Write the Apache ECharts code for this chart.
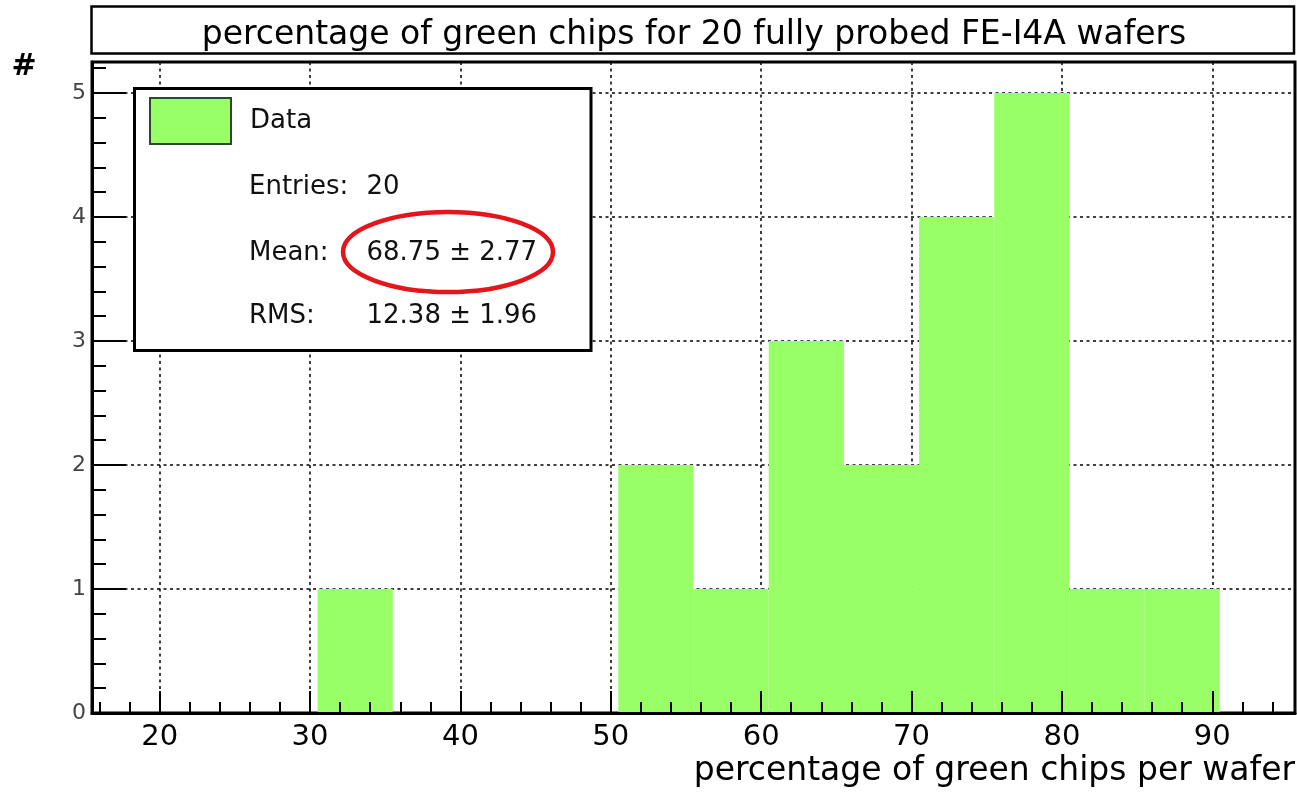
<!DOCTYPE html>
<html>
<head>
<meta charset="utf-8">
<title>percentage of green chips for 20 fully probed FE-I4A wafers</title>
<script src="https://cdn.jsdelivr.net/npm/echarts@6/dist/echarts.min.js"></script>
<style>
  html, body { margin: 0; padding: 0; background: #fff; }
  #chart { width: 1297px; height: 792px; }
</style>
</head>
<body>
<div id="chart"></div>
<script>
// Histogram bins (low edge, width 5) and entries per bin
const binLow = [30.5, 50.5, 55.5, 60.5, 65.5, 70.5, 75.5, 80.5, 85.5];
const binWidth = 5;
const counts = [1, 2, 1, 3, 2, 4, 5, 1, 1];

// Axis ranges and tick positions
const xRange = [15.5, 95.5];
const yRange = [0, 5.25];
const xMajorTicks = [20, 30, 40, 50, 60, 70, 80, 90];
const xMinorTicks = [16, 18, 22, 24, 26, 28, 32, 34, 36, 38, 42, 44, 46, 48, 52, 54, 56, 58,
                     62, 64, 66, 68, 72, 74, 76, 78, 82, 84, 86, 88, 92, 94];
const yMajorTicks = [0, 1, 2, 3, 4, 5];
const yMinorTicks = [0.2, 0.4, 0.6, 0.8, 1.2, 1.4, 1.6, 1.8, 2.2, 2.4, 2.6, 2.8,
                     3.2, 3.4, 3.6, 3.8, 4.2, 4.4, 4.6, 4.8, 5.2];

// Statistics box
const statLabels = ['Entries:', 'Mean:', 'RMS:'];
const statValues = ['20', '68.75 \u00b1 2.77', '12.38 \u00b1 1.96'];

const titleText = 'percentage of green chips for 20 fully probed FE-I4A wafers';
const xTitle = 'percentage of green chips per wafer';
const yTitle = '#';

const FONT = "'DejaVu Sans', sans-serif";
const FILL = '#99ff66';
const gridDots = { color: '#000', width: 1.5, type: [3, 3.5] };

const chart = echarts.init(document.getElementById('chart'), null, { renderer: 'canvas' });

const histData = binLow.map((lo, i) => [lo, lo + binWidth, counts[i]]);

function hidden() {
  return { axisLine: { show: false }, axisTick: { show: false }, axisLabel: { show: false }, splitLine: { show: false } };
}

const option = {
  animation: false,
  backgroundColor: '#fff',
  grid: {
    left: 92, top: 62, width: 1203, height: 651,
    show: true, borderColor: '#000', borderWidth: 3, backgroundColor: '#fff',
    containLabel: false, outerBoundsMode: 'none'
  },
  legend: {
    show: true, selectedMode: false, z: 20, padding: 0,
    left: 149, top: 97, orient: 'vertical',
    itemWidth: 81, itemHeight: 46,
    data: [{ name: 'Data', icon: 'rect' }],
    itemStyle: { color: FILL, borderColor: '#2b4a2b', borderWidth: 2 },
    textStyle: { fontFamily: FONT, fontSize: 26, color: '#111', padding: [0, 0, 0, 14] }
  },
  xAxis: [
    // gridlines (beneath the bars)
    Object.assign(hidden(), {
      type: 'value', min: xRange[0], max: xRange[1], splitNumber: 8, position: 'bottom',
      splitLine: { show: true, lineStyle: gridDots }
    }),
    // axis line, major ticks and labels
    Object.assign(hidden(), {
      type: 'value', min: xRange[0], max: xRange[1], position: 'bottom', z: 5,
      axisLine: { show: true, onZero: false, lineStyle: { color: '#000', width: 3 } },
      axisTick: { show: true, inside: true, length: 22, customValues: xMajorTicks, lineStyle: { color: '#000', width: 2 } },
      axisLabel: { show: true, customValues: xMajorTicks, fontFamily: FONT, fontSize: 29, color: '#000', margin: 10 }
    }),
    // minor ticks
    Object.assign(hidden(), {
      type: 'value', min: xRange[0], max: xRange[1], position: 'bottom', z: 5,
      axisTick: { show: true, inside: true, length: 11, customValues: xMinorTicks, lineStyle: { color: '#000', width: 2 } }
    })
  ],
  yAxis: [
    Object.assign(hidden(), {
      type: 'value', min: yRange[0], max: yRange[1], interval: 1, position: 'left',
      splitLine: { show: true, lineStyle: gridDots }
    }),
    Object.assign(hidden(), {
      type: 'value', min: yRange[0], max: yRange[1], position: 'left', z: 5,
      axisLine: { show: true, onZero: false, lineStyle: { color: '#000', width: 3 } },
      axisTick: { show: true, inside: true, length: 34, customValues: yMajorTicks, lineStyle: { color: '#000', width: 2 } },
      axisLabel: { show: true, customValues: yMajorTicks, fontFamily: FONT, fontSize: 22, color: '#444', margin: 6 }
    }),
    Object.assign(hidden(), {
      type: 'value', min: yRange[0], max: yRange[1], position: 'left', z: 5,
      axisTick: { show: true, inside: true, length: 14, customValues: yMinorTicks, lineStyle: { color: '#000', width: 2 } }
    })
  ],
  series: [{
    type: 'custom',
    name: 'Data',
    xAxisIndex: 0, yAxisIndex: 0, z: 2,
    itemStyle: { color: FILL },
    encode: { x: [0, 1], y: 2 },
    data: histData,
    renderItem: function (params, api) {
      const topLeft = api.coord([api.value(0), api.value(2)]);
      const bottomRight = api.coord([api.value(1), 0]);
      return {
        type: 'rect',
        shape: { x: topLeft[0], y: topLeft[1], width: bottomRight[0] - topLeft[0], height: bottomRight[1] - topLeft[1] },
        style: { fill: FILL }
      };
    }
  }],
  graphic: [
    // title box
    { type: 'rect', z: 10, shape: { x: 91.5, y: 6.5, width: 1202.5, height: 47 },
      style: { fill: '#fff', stroke: '#000', lineWidth: 2.5 } },
    { type: 'text', z: 11, x: 694, y: 35.5,
      style: { text: titleText, font: '33px ' + FONT, fill: '#000', align: 'center', verticalAlign: 'middle' } },
    // axis titles
    { type: 'text', z: 11, x: 1295, y: 771.5,
      style: { text: xTitle, font: '33px ' + FONT, fill: '#000', align: 'right', verticalAlign: 'middle' } },
    { type: 'text', z: 11, x: 24, y: 67.5,
      style: { text: yTitle, font: 'bold 30px ' + FONT, fill: '#000', align: 'center', verticalAlign: 'middle' } },
    // statistics box
    { type: 'rect', z: 12, shape: { x: 134.5, y: 88.5, width: 456.5, height: 262 },
      style: { fill: '#fff', stroke: '#000', lineWidth: 3 } },
    { type: 'text', z: 13, x: 249, y: 187.5,
      style: { text: statLabels[0], font: '26px ' + FONT, fill: '#111', verticalAlign: 'middle' } },
    { type: 'text', z: 13, x: 366.5, y: 187.5,
      style: { text: statValues[0], font: '26px ' + FONT, fill: '#111', verticalAlign: 'middle' } },
    { type: 'text', z: 13, x: 249, y: 253.5,
      style: { text: statLabels[1], font: '26px ' + FONT, fill: '#111', verticalAlign: 'middle' } },
    { type: 'text', z: 13, x: 366.5, y: 253.5,
      style: { text: statValues[1], font: '26px ' + FONT, fill: '#111', verticalAlign: 'middle' } },
    { type: 'text', z: 13, x: 249, y: 316,
      style: { text: statLabels[2], font: '26px ' + FONT, fill: '#111', verticalAlign: 'middle' } },
    { type: 'text', z: 13, x: 366.5, y: 316,
      style: { text: statValues[2], font: '26px ' + FONT, fill: '#111', verticalAlign: 'middle' } },
    // highlight around the mean
    { type: 'ellipse', z: 14, shape: { cx: 448, cy: 252, rx: 105, ry: 40 },
      style: { fill: 'none', stroke: '#e3161c', lineWidth: 4.5 } }
  ]
};

chart.setOption(option);
</script>
</body>
</html>
